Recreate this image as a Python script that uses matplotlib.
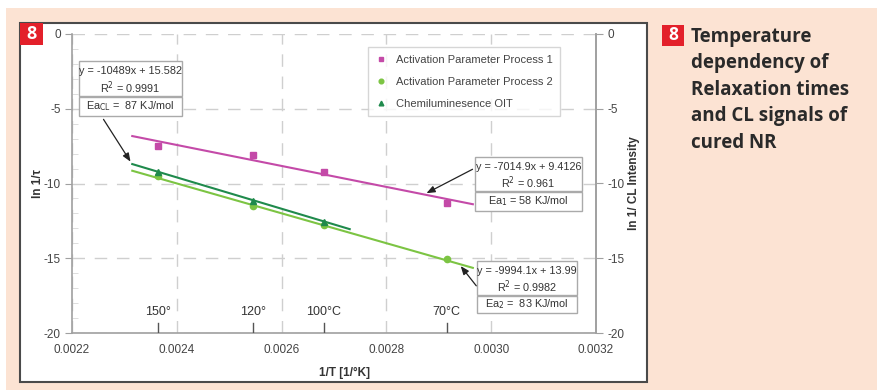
import matplotlib.pyplot as plt
from matplotlib.patches import Rectangle

plt.rcParams['font.family'] = ['Liberation Sans', 'DejaVu Sans']
plt.rcParams['axes.unicode_minus'] = False

## data
inv_T = [0.002364, 0.002545, 0.002681, 0.002915]
p1_vals = [-7.5, -8.1, -9.25, -11.3]
p2_vals = [-9.5, -11.5, -12.8, -15.05]
cl_x = [0.002364, 0.002545, 0.002681]
cl_vals = [-9.25, -11.2, -12.6]

## fits as printed on the chart
p1_fit = (-7014.9, 9.4126)
p2_fit = (-9994.1, 13.99)
cl_fit = (-10489, 15.582)
p1_range = [0.002315, 0.002965]
p2_range = [0.002315, 0.002965]
cl_range = [0.002315, 0.00273]

temp_labels = ['150°', '120°', '100°C', '70°C']
xticks = [0.0022, 0.0024, 0.0026, 0.0028, 0.0030, 0.0032]
yticks = [0, -5, -10, -15, -20]

c_p1 = '#c44aa8'
c_p2 = '#7cc443'
c_cl = '#1f8a4c'
peach = '#fce3d3'

fig = plt.figure(figsize=(8.78, 3.90), dpi=100, facecolor='white')
W, H = 878.0, 390.0

def fx(px):
    return px / W

def fy(py):
    return 1 - py / H

## backgrounds
fig.patches.append(Rectangle((fx(6), 0), 1, fy(8), transform=fig.transFigure,
                             facecolor=peach, edgecolor='none', zorder=-3))
fig.patches.append(Rectangle((fx(20), fy(382)), fx(647) - fx(20), fy(23) - fy(382),
                             transform=fig.transFigure, facecolor='white',
                             edgecolor='#4a4a4a', lw=1.5, zorder=-2))
fig.patches.append(Rectangle((fx(20), fy(45)), fx(43) - fx(20), fy(23) - fy(45),
                             transform=fig.transFigure, facecolor='#e3202a',
                             edgecolor='none', zorder=-1))
fig.text(fx(31.5), fy(34), '8', color='white', fontsize=13, fontweight='bold',
         ha='center', va='center', family='Open Sans')

## side caption
fig.patches.append(Rectangle((fx(662), fy(46)), fx(684) - fx(662), fy(25) - fy(46),
                             transform=fig.transFigure, facecolor='#e3202a',
                             edgecolor='none'))
fig.text(fx(673), fy(35.5), '8', color='white', fontsize=12.5, fontweight='bold',
         ha='center', va='center', family='Open Sans')
fig.text(fx(691), fy(27), 'Temperature\ndependency of\nRelaxation times\nand CL signals of\ncured NR',
         color='#2a2a2a', fontsize=13.5, fontweight='bold', ha='left', va='top',
         linespacing=1.43, family='Open Sans')

ax = fig.add_axes([fx(72), fy(333), fx(596) - fx(72), fy(34) - fy(333)])
ax.set_facecolor('none')
ax.set_xlim(0.0022, 0.0032)
ax.set_ylim(-20, 0)

gray = '#a0a0a0'
ax.spines['top'].set_visible(False)
for s in ['left', 'bottom', 'right']:
    ax.spines[s].set_color(gray)
    ax.spines[s].set_linewidth(1.2)

ax.set_xticks(xticks)
ax.set_xticklabels(['%.4f' % v for v in xticks])
ax.set_yticks(yticks)
ax.set_yticks(range(-19, 0), minor=True)
ax.tick_params(axis='x', length=0, pad=8, labelsize=8.5, labelcolor='#444444')
ax.tick_params(axis='y', which='major', length=5, color=gray, labelsize=8.5,
               labelcolor='#444444', direction='out', pad=3)
ax.tick_params(axis='y', which='minor', length=4, color='#d8d8d8', direction='in')

ax.grid(True, which='major', color='#cfcfcf', linestyle=(0, (9, 7)), linewidth=1)
ax.set_axisbelow(True)

ax.set_ylabel('ln 1/τ', fontsize=8.5, fontweight='bold', color='#333333')
ax.yaxis.set_label_coords(-0.053, 0.5)
ax.set_xlabel('1/T [1/°K]', fontsize=8.5, fontweight='bold', color='#333333')
ax.xaxis.set_label_coords(0.52, -0.115)

ax2 = ax.twinx()
ax2.set_ylim(-20, 0)
ax2.set_yticks(yticks)
for s in ['top', 'left', 'bottom']:
    ax2.spines[s].set_visible(False)
ax2.spines['right'].set_color(gray)
ax2.spines['right'].set_linewidth(1.2)
ax2.tick_params(axis='y', length=5, color=gray, labelsize=8.5, labelcolor='#444444')
ax2.set_ylabel('ln 1/ CL Intensity', fontsize=8.5, fontweight='bold', color='#333333',
               labelpad=2)

## fit lines
def fit_line(rng, fit):
    return [fit[0] * x + fit[1] for x in rng]

ax.plot(p1_range, fit_line(p1_range, p1_fit), color=c_p1, lw=1.5, zorder=3)
ax.plot(p2_range, fit_line(p2_range, p2_fit), color=c_p2, lw=1.5, zorder=3)
ax.plot(cl_range, fit_line(cl_range, cl_fit), color=c_cl, lw=1.5, zorder=3)

## points
ax.plot(inv_T, p1_vals, ls='none', marker='s', ms=4.5, color=c_p1,
        label='Activation Parameter Process 1', zorder=4)
ax.plot(inv_T, p2_vals, ls='none', marker='o', ms=4.5, color=c_p2,
        label='Activation Parameter Process 2', zorder=4)
ax.plot(cl_x, cl_vals, ls='none', marker='^', ms=4.5, color=c_cl,
        label='Chemiluminesence OIT', zorder=5)

leg = ax.legend(loc='upper left', bbox_to_anchor=(0.565, 0.955), fontsize=8,
                frameon=True, fancybox=False, edgecolor='#cccccc', borderpad=0.7,
                labelspacing=1.05, handlelength=1.0, handletextpad=0.8,
                markerscale=0.75, borderaxespad=0)
leg.get_frame().set_linewidth(1)
for t in leg.get_texts():
    t.set_color('#444444')

## temperature markers above the x axis
for x, lab in zip(inv_T, temp_labels):
    ax.plot([x, x], [-19.35, -20], color='#555555', lw=1, zorder=3)
    ax.text(x, -18.6, lab, ha='center', va='center', fontsize=9, color='#333333')

## equation boxes (pixel layout converted to data coords)
def dx(px):
    return 0.0022 + (px - 72) / 524000.0

def dy(py):
    return -(py - 34) / 14.95

def eq_box(x0, x1, ya, yb, yc, eq, ea):
    ax.add_patch(Rectangle((dx(x0), dy(yb)), dx(x1) - dx(x0), dy(ya) - dy(yb),
                           facecolor='white', edgecolor='#aaaaaa', lw=1, zorder=6))
    ax.add_patch(Rectangle((dx(x0), dy(yc)), dx(x1) - dx(x0), dy(yb + 1) - dy(yc),
                           facecolor='white', edgecolor='#aaaaaa', lw=1, zorder=6))
    xm = (dx(x0) + dx(x1)) / 2
    ax.text(xm, dy(ya + (yb - ya) * 0.3), eq[0], ha='center', va='center',
            fontsize=7.8, color='#333333', zorder=7)
    ax.text(xm, dy(ya + (yb - ya) * 0.75), eq[1], ha='center', va='center',
            fontsize=7.8, color='#333333', zorder=7)
    ax.text(xm, dy((yb + 1 + yc) / 2), ea, ha='center', va='center',
            fontsize=7.8, color='#333333', zorder=7)

eq_box(79, 182, 61, 96, 116, ['y = -10489x + 15.582', 'R$^2$ = 0.9991'],
       r'Ea$_{\mathrm{CL}}$ =  87 KJ/mol')
eq_box(475, 582, 157, 191, 211, ['y = -7014.9x + 9.4126', 'R$^2$ = 0.961'],
       r'Ea$_{\mathrm{1}}$ = 58 KJ/mol')
eq_box(477, 577, 261, 295, 313, ['y = -9994.1x + 13.99', 'R$^2$ = 0.9982'],
       r'Ea$_{\mathrm{2}}$ =  83 KJ/mol')

## arrows pointing at the fit lines
arrow = dict(arrowstyle='-|>,head_length=0.5,head_width=0.2', color='#222222', lw=0.9)
tx = [dx(132), dx(424), dx(459)]
fits = [cl_fit, p1_fit, p2_fit]
starts = [(102, 117), (475, 168), (478, 288)]
for x, f, s in zip(tx, fits, starts):
    ax.annotate('', xy=(x, f[0] * x + f[1]), xytext=(dx(s[0]), dy(s[1])),
                arrowprops=arrow, zorder=8)

plt.savefig('out.png', dpi=100, facecolor=fig.get_facecolor())
plt.close()
